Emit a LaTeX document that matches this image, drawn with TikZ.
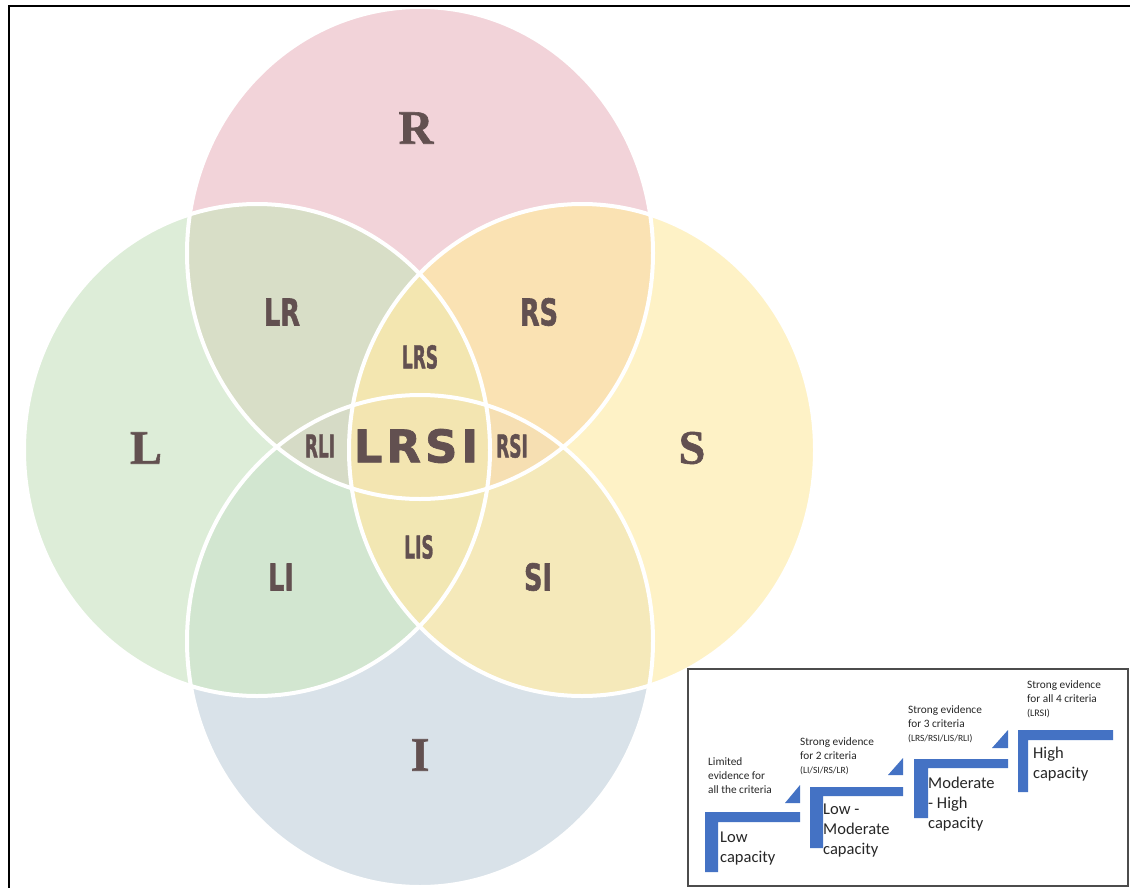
\documentclass[tikz,border=0pt]{standalone}
\usepackage{fontspec}
\usepackage{graphicx}
\setmainfont{Liberation Serif}
\newfontfamily\setfont{Liberation Serif Bold}[FakeBold=1.2]
\newfontfamily\heavyfont{DejaVu Sans Bold}[FakeBold=1.6]
\newfontfamily\legendfont{Carlito}

% set colours
\definecolor{cR}{RGB}{242,211,217}
\definecolor{cL}{RGB}{221,237,216}
\definecolor{cS}{RGB}{254,242,198}
\definecolor{cI}{RGB}{217,226,233}
\definecolor{cLR}{RGB}{216,222,199}
\definecolor{cRS}{RGB}{250,226,179}
\definecolor{cLI}{RGB}{210,230,208}
\definecolor{cSI}{RGB}{245,233,186}
\definecolor{cLRS}{RGB}{243,230,176}
\definecolor{cRLI}{RGB}{214,219,198}
\definecolor{cLIS}{RGB}{242,231,179}
\definecolor{cRSI}{RGB}{246,223,178}
\definecolor{cLRSI}{RGB}{243,229,177}
\definecolor{cText}{RGB}{98,80,80}
\definecolor{cStep}{RGB}{68,114,196}
\definecolor{cLegend}{RGB}{38,38,38}

% region label formats
\newcommand\setlbl[1]{\setfont\fontsize{48}{48}\selectfont #1}
\newcommand\pairlbl[1]{\scalebox{0.69}[1]{\heavyfont\fontsize{37}{37}\selectfont #1}}
\newcommand\triplbl[1]{\scalebox{0.54}[1]{\heavyfont\fontsize{31.5}{31.5}\selectfont #1}}
\newcommand\quadlbl{\heavyfont\fontsize{45}{45}\selectfont L\kern4pt R\kern4pt S\kern4pt I}

\begin{document}
\begin{tikzpicture}[x=1pt,y=-1pt,
  lbl/.style={text=cText, inner sep=0pt},
  outline/.style={draw=white, line width=4pt},
  stepbar/.style={fill=cStep},
  smalltxt/.style={anchor=north west, inner sep=0pt, align=left, text=cLegend,
    font=\legendfont\fontsize{11.3}{14}\selectfont},
  bigtxt/.style={anchor=north west, inner sep=0pt, align=left, text=cLegend,
    font=\legendfont\fontsize{16.5}{20}\selectfont}]
\useasboundingbox (0,0) rectangle (1130,888);
\fill[white] (0,0) rectangle (1130,888);

% the four sets
\def\ellR{(420,253) ellipse [x radius=233pt, y radius=246pt]}
\def\ellI{(420,641) ellipse [x radius=233pt, y radius=246pt]}
\def\ellL{(257,450) ellipse [x radius=233pt, y radius=246pt]}
\def\ellS{(582,450) ellipse [x radius=233pt, y radius=246pt]}

\fill[cR] \ellR;
\fill[cL] \ellL;
\fill[cS] \ellS;
\fill[cI] \ellI;

% pairwise overlaps
\begin{scope}
  \clip \ellL;
  \fill[cLR] \ellR;
  \fill[cLI] \ellI;
\end{scope}
\begin{scope}
  \clip \ellS;
  \fill[cRS] \ellR;
  \fill[cSI] \ellI;
\end{scope}

% triple overlaps
\begin{scope}
  \clip \ellL;
  \clip \ellR;
  \fill[cLRS] \ellS;
  \fill[cRLI] \ellI;
\end{scope}
\begin{scope}
  \clip \ellS;
  \clip \ellI;
  \fill[cLIS] \ellL;
  \fill[cRSI] \ellR;
\end{scope}

% all four
\begin{scope}
  \clip \ellL;
  \clip \ellR;
  \clip \ellS;
  \fill[cLRSI] \ellI;
\end{scope}

% white outlines
\path[outline] \ellR;
\path[outline] \ellL;
\path[outline] \ellS;
\path[outline] \ellI;

% labels
\node[lbl] (tR) at (416,128) {\setlbl{R}};
\node[lbl] (tL) at (146,448) {\setlbl{L}};
\node[lbl] (tS) at (692,448) {\setlbl{S}};
\node[lbl] (tI) at (420,755) {\setlbl{I}};

\node[lbl] (tLR) at (282,312) {\pairlbl{LR}};
\node[lbl] (tRS) at (539,312) {\pairlbl{RS}};
\node[lbl] (tLI) at (281,577) {\pairlbl{LI}};
\node[lbl] (tSI) at (538,577) {\pairlbl{SI}};

\node[lbl] (tLRS) at (420,357) {\triplbl{LRS}};
\node[lbl] (tRLI) at (320,446) {\triplbl{RLI}};
\node[lbl] (tRSI) at (512,446) {\triplbl{RSI}};
\node[lbl] (tLIS) at (419,547) {\triplbl{LIS}};

\node[lbl] (tLRSI) at (416,446) {\quadlbl};

% page frame
\draw[line width=2pt, black] (8.5,888) -- (8.5,6.5) -- (1130,6.5);

% legend box
\draw[line width=1.5pt, draw=black!70, fill=white] (688,669) rectangle (1128,886);

% staircase
\fill[stepbar] (705,812) -- (800,812) -- (800,822) -- (718,822) -- (718,872) -- (705,872) -- cycle;
\fill[stepbar] (785,803) -- (800,785) -- (800,803) -- cycle;
\fill[stepbar] (810,787) -- (903,787) -- (903,796) -- (823,796) -- (823,848) -- (810,848) -- cycle;
\fill[stepbar] (888,775) -- (903,758) -- (903,775) -- cycle;
\fill[stepbar] (914,759) -- (1008,759) -- (1008,768) -- (928,768) -- (928,818) -- (914,818) -- cycle;
\fill[stepbar] (992,748) -- (1008,730) -- (1008,748) -- cycle;
\fill[stepbar] (1018,730) -- (1113,730) -- (1113,740) -- (1028,740) -- (1028,792) -- (1018,792) -- cycle;

% legend texts
\node[smalltxt] (e1) at (708,757) {Limited\\evidence for\\all the criteria};
\node[smalltxt] (e2) at (800,737) {Strong evidence\\for 2 criteria\\{\fontsize{9.5}{11}\selectfont (LI/SI/RS/LR)}};
\node[smalltxt] (e3) at (908,705) {Strong evidence\\for 3 criteria\\{\fontsize{9.5}{11}\selectfont (LRS/RSI/LIS/RLI)}};
\node[smalltxt] (e4) at (1027,680) {Strong evidence\\for all 4 criteria\\{\fontsize{10}{12}\selectfont (LRSI)}};

\node[bigtxt] (c1) at (720,832) {Low\\capacity};
\node[bigtxt] (c2) at (823,804) {Low -\\Moderate\\capacity};
\node[bigtxt] (c3) at (928,777) {Moderate\\- High\\capacity};
\node[bigtxt] (c4) at (1033,747) {High\\capacity};
\end{tikzpicture}
\end{document}
